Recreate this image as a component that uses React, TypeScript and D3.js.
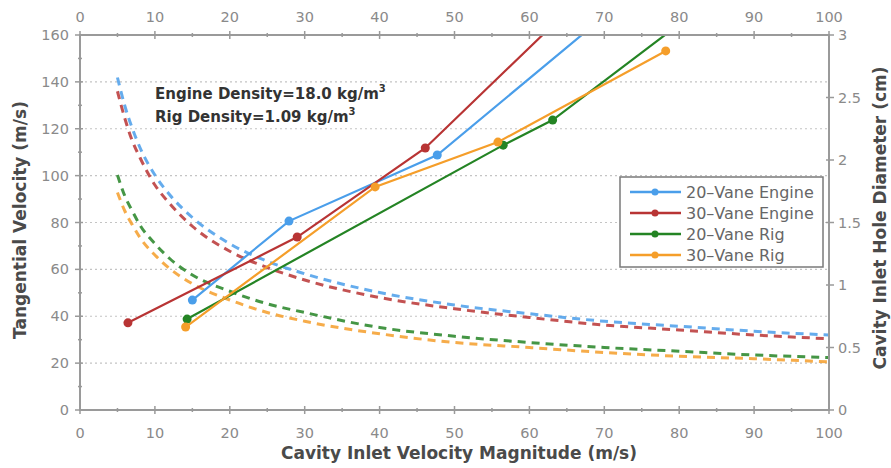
import React from "react";
import * as d3 from "d3";

// ---------- DATA ----------
const seriesNames = ["20\u2013Vane Engine", "30\u2013Vane Engine", "20\u2013Vane Rig", "30\u2013Vane Rig"];
const seriesColors = ["#4A9EEA", "#B83434", "#248424", "#F59E2A"];

// Solid: tangential velocity (m/s) vs cavity inlet velocity magnitude (m/s)
const blueVx = [15.0, 27.9, 47.7, 70];
const blueVy = [46.9, 80.6, 108.8, 168];
const redVx = [6.4, 29.0, 46.1, 65];
const redVy = [37.2, 73.8, 111.8, 170];
const greenVx = [14.3, 56.5, 63.1, 80];
const greenVy = [38.8, 113.0, 123.7, 164.6];
const orangeVx = [14.1, 39.4, 55.8, 78.2];
const orangeVy = [35.4, 95.2, 114.3, 153.2];
// number of visible markers per series (later points lie above the plot and are clipped)
const markerCounts = [3, 3, 3, 4];

// Dashed: cavity inlet hole diameter (cm) vs cavity inlet velocity magnitude (m/s)
const diamX = [5, 6, 7, 8, 10, 12, 15, 20, 25, 30, 40, 50, 60, 70, 80, 90, 100];
const blueD = [2.66, 2.43, 2.25, 2.1, 1.88, 1.72, 1.54, 1.33, 1.19, 1.09, 0.94, 0.84, 0.77, 0.71, 0.67, 0.63, 0.6];
const redD = [2.55, 2.33, 2.15, 2.02, 1.8, 1.65, 1.47, 1.27, 1.14, 1.04, 0.9, 0.81, 0.74, 0.68, 0.64, 0.6, 0.57];
const greenD = [1.88, 1.71, 1.59, 1.48, 1.33, 1.21, 1.08, 0.95, 0.85, 0.78, 0.66, 0.59, 0.54, 0.5, 0.47, 0.44, 0.42];
const orangeD = [1.74, 1.59, 1.48, 1.38, 1.24, 1.13, 1.01, 0.88, 0.78, 0.71, 0.61, 0.54, 0.5, 0.46, 0.43, 0.41, 0.385];

const xTicks = [0, 10, 20, 30, 40, 50, 60, 70, 80, 90, 100];
const xMinorTicks = [5, 15, 25, 35, 45, 55, 65, 75, 85, 95];
const yLTicks = [0, 20, 40, 60, 80, 100, 120, 140, 160];
const yLMinorTicks = [10, 30, 50, 70, 90, 110, 130, 150];
const yLGrid = [20, 40, 60, 80, 100, 120, 140];
const yRTicks = [0, 0.5, 1, 1.5, 2, 2.5, 3];

const xLabel = "Cavity Inlet Velocity Magnitude (m/s)";
const yLLabel = "Tangential Velocity (m/s)";
const yRLabel = "Cavity Inlet Hole Diameter (cm)";

export default function App() {
  const W = 891, H = 468;
  const L = 80, R = 829, T = 35, B = 410;
  const x = d3.scaleLinear().domain([0, 100]).range([L, R]);
  const yL = d3.scaleLinear().domain([0, 160]).range([B, T]);
  const yR = d3.scaleLinear().domain([0, 3]).range([B, T]);

  const solidX = [blueVx, redVx, greenVx, orangeVx];
  const solidY = [blueVy, redVy, greenVy, orangeVy];
  const dashY = [blueD, redD, greenD, orangeD];

  const solidLine = d3.line<[number, number]>().x((d) => x(d[0])).y((d) => yL(d[1]));
  const dashLine = d3
    .line<[number, number]>()
    .x((d) => x(d[0]))
    .y((d) => yR(d[1]))
    .curve(d3.curveMonotoneX);

  const font = "'DejaVu Sans', sans-serif";
  const tickColor = "#8a8a8a";
  const axisColor = "#9a9a9a";
  const tickSize = 14.5;

  return (
    <svg
      width={W}
      height={H}
      style={{ position: "absolute", left: 0, top: 0, background: "#fff" }}
    >
      <defs>
        <clipPath id="plot">
          <rect x={L} y={T} width={R - L} height={B - T} />
        </clipPath>
      </defs>

      {/* grid */}
      {yLGrid.map((v) => (
        <line key={"g" + v} x1={L} x2={R} y1={yL(v)} y2={yL(v)} stroke="#c4c4c4" strokeWidth={1.2} strokeDasharray="2,3" />
      ))}

      {/* dashed diameter curves */}
      <g clipPath="url(#plot)">
        {dashY.map((ys, i) => (
          <path
            key={"d" + i}
            d={dashLine(diamX.map((xv, j) => [xv, ys[j]] as [number, number])) || ""}
            fill="none"
            stroke={seriesColors[i]}
            strokeWidth={3}
            strokeDasharray="8,6"
            opacity={0.85}
          />
        ))}
      </g>

      {/* solid velocity lines */}
      <g clipPath="url(#plot)">
        {solidX.map((xs, i) => (
          <g key={"s" + i}>
            <path
              d={solidLine(xs.map((xv, j) => [xv, solidY[i][j]] as [number, number])) || ""}
              fill="none"
              stroke={seriesColors[i]}
              strokeWidth={2.2}
            />
            {xs.slice(0, markerCounts[i]).map((xv, j) => (
              <circle key={j} cx={x(xv)} cy={yL(solidY[i][j])} r={4.5} fill={seriesColors[i]} />
            ))}
          </g>
        ))}
      </g>

      {/* axes frame */}
      <rect x={L} y={T} width={R - L} height={B - T} fill="none" stroke={axisColor} strokeWidth={2} />

      {/* bottom & top ticks */}
      {xTicks.map((v) => (
        <g key={"xt" + v}>
          <line x1={x(v)} x2={x(v)} y1={B - 4} y2={B + 4} stroke={axisColor} strokeWidth={1.5} />
          <line x1={x(v)} x2={x(v)} y1={T - 4} y2={T + 4} stroke={axisColor} strokeWidth={1.5} />
          <text x={x(v)} y={438} textAnchor="middle" fontFamily={font} fontSize={tickSize} fill={tickColor}>
            {v}
          </text>
          <text x={x(v)} y={22} textAnchor="middle" fontFamily={font} fontSize={tickSize} fill={tickColor}>
            {v}
          </text>
        </g>
      ))}
      {xMinorTicks.map((v) => (
        <g key={"xm" + v}>
          <line x1={x(v)} x2={x(v)} y1={B - 2} y2={B + 2} stroke={axisColor} strokeWidth={1.5} />
          <line x1={x(v)} x2={x(v)} y1={T - 2} y2={T + 2} stroke={axisColor} strokeWidth={1.5} />
        </g>
      ))}

      {/* left ticks */}
      {yLTicks.map((v) => (
        <g key={"yl" + v}>
          <line x1={L - 5} x2={L + 3} y1={yL(v)} y2={yL(v)} stroke={axisColor} strokeWidth={1.5} />
          <text x={69} y={yL(v) + 5} textAnchor="end" fontFamily={font} fontSize={tickSize} fill={tickColor}>
            {v}
          </text>
        </g>
      ))}
      {yLMinorTicks.map((v) => (
        <line key={"ylm" + v} x1={L - 2} x2={L + 2} y1={yL(v)} y2={yL(v)} stroke={axisColor} strokeWidth={1.5} />
      ))}

      {/* right ticks */}
      {yRTicks.map((v) => (
        <g key={"yr" + v}>
          <line x1={R - 3} x2={R + 5} y1={yR(v)} y2={yR(v)} stroke={axisColor} strokeWidth={1.5} />
          <text x={838} y={yR(v) + 5} textAnchor="start" fontFamily={font} fontSize={tickSize} fill={tickColor}>
            {v}
          </text>
        </g>
      ))}

      {/* axis labels */}
      <text x={459} y={459} textAnchor="middle" fontFamily={font} fontWeight={700} fontSize={17} fill="#4a4a4a">
        {xLabel}
      </text>
      <text
        transform={`translate(26,220) rotate(-90)`}
        textAnchor="middle"
        fontFamily={font}
        fontWeight={700}
        fontSize={17}
        fill="#4a4a4a"
      >
        {yLLabel}
      </text>
      <text
        transform={`translate(886,218) rotate(-90)`}
        textAnchor="middle"
        fontFamily={font}
        fontWeight={700}
        fontSize={17}
        fill="#4a4a4a"
      >
        {yRLabel}
      </text>

      {/* annotation */}
      <text x={155} y={99} fontFamily={font} fontWeight={700} fontSize={15} fill="#333">
        Engine Density=18.0 kg/m<tspan dy={-7} fontSize={10}>3</tspan>
      </text>
      <text x={155} y={122} fontFamily={font} fontWeight={700} fontSize={15} fill="#333">
        Rig Density=1.09 kg/m<tspan dy={-7} fontSize={10}>3</tspan>
      </text>

      {/* legend */}
      <g>
        <rect x={620} y={177} width={203} height={90} fill="#fff" stroke="#7a7a7a" strokeWidth={1.5} />
        {seriesNames.map((n, i) => {
          const cy = 192 + i * 21;
          return (
            <g key={"lg" + i}>
              <line x1={630} x2={681} y1={cy} y2={cy} stroke={seriesColors[i]} strokeWidth={2.5} />
              <circle cx={655} cy={cy} r={3.5} fill={seriesColors[i]} />
              <text x={686} y={cy + 5.5} fontFamily={font} fontSize={16} fill="#666">
                {n}
              </text>
            </g>
          );
        })}
      </g>
    </svg>
  );
}
